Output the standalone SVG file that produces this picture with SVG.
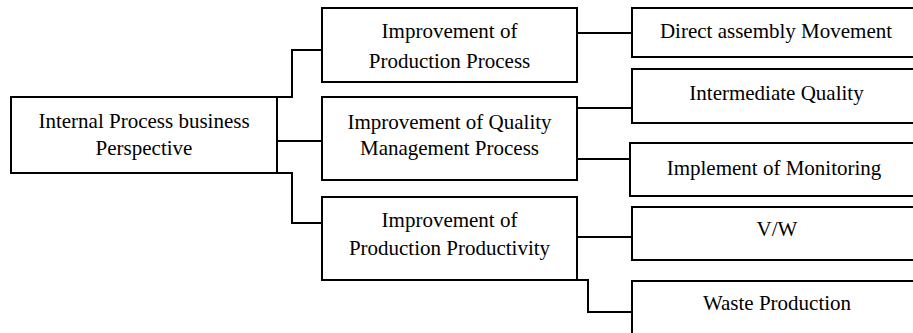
<svg xmlns="http://www.w3.org/2000/svg" width="913" height="333" viewBox="0 0 913 333">
<style>
.box{fill:#fff;stroke:#000;stroke-width:2}
.conn{fill:none;stroke:#000;stroke-width:2}
text{font-family:"Liberation Serif","Times New Roman",serif;font-size:21px;fill:#000;text-anchor:middle}
</style>
<rect width="913" height="333" fill="#fff"/>
<g id="connectors">
<path class="conn" d="M277,97 H292 V50 H322"/>
<path class="conn" d="M277,141 H322"/>
<path class="conn" d="M277,173 H292 V223 H322"/>
<path class="conn" d="M577,33 H632"/>
<path class="conn" d="M577,108 H632"/>
<path class="conn" d="M577,159 H630"/>
<path class="conn" d="M577,237 H632"/>
<path class="conn" d="M577,280 H588 V312 H632"/>
</g>
<g id="root">
<rect class="box" x="11" y="97" width="266" height="76"/>
<text x="144" y="128">Internal Process business</text>
<text x="144" y="155">Perspective</text>
</g>
<g id="production-process">
<rect class="box" x="322" y="8" width="255" height="74"/>
<text x="449.5" y="38">Improvement of</text>
<text x="449.5" y="68">Production Process</text>
</g>
<g id="quality-management">
<rect class="box" x="322" y="97" width="255" height="83"/>
<text x="449.5" y="129">Improvement of Quality</text>
<text x="449.5" y="155">Management Process</text>
</g>
<g id="production-productivity">
<rect class="box" x="322" y="197" width="255" height="83"/>
<text x="449.5" y="227">Improvement of</text>
<text x="449.5" y="255">Production Productivity</text>
</g>
<g id="direct-assembly">
<rect class="box" x="632" y="8" width="300" height="49"/>
<text x="776" y="38">Direct assembly Movement</text>
</g>
<g id="intermediate-quality">
<rect class="box" x="632" y="69" width="300" height="54"/>
<text x="776.5" y="100">Intermediate Quality</text>
</g>
<g id="monitoring">
<rect class="box" x="630" y="143" width="300" height="53"/>
<text x="774" y="175">Implement of Monitoring</text>
</g>
<g id="vw">
<rect class="box" x="632" y="207" width="300" height="53"/>
<text x="777" y="236">V/W</text>
</g>
<g id="waste">
<rect class="box" x="632" y="281" width="300" height="80"/>
<text x="777" y="310">Waste Production</text>
</g>
</svg>
